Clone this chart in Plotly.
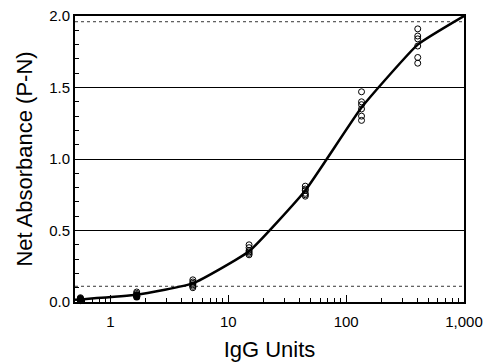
import plotly.graph_objects as go

# IgG dilution series (3-fold)
igg_units = [0.556, 1.67, 5, 15, 45, 135, 405]
replicates = [
    [0.03, 0.02, 0.02, 0.015, 0.01, 0.01],
    [0.07, 0.06, 0.05, 0.05, 0.04, 0.04],
    [0.155, 0.14, 0.13, 0.12, 0.11, 0.10],
    [0.40, 0.38, 0.36, 0.35, 0.34, 0.33],
    [0.81, 0.79, 0.78, 0.76, 0.75, 0.74],
    [1.47, 1.40, 1.38, 1.35, 1.30, 1.27],
    [1.91, 1.86, 1.84, 1.79, 1.71, 1.67],
]
# filled (overlapping) points at the low end
filled_x = [0.556, 0.556, 1.67, 1.67]
filled_y = [0.025, 0.015, 0.045, 0.035]

# fitted curve
curve_x = [0.5, 0.556, 1.67, 5, 15, 45, 135, 405, 1000]
curve_y = [0.015, 0.018, 0.05, 0.13, 0.355, 0.78, 1.36, 1.80, 2.0]

cutoff_low = 0.11
cutoff_high = 1.96

y_ticks = [0.0, 0.5, 1.0, 1.5, 2.0]
x_ticks = [1, 10, 100, 1000]
x_tick_text = ["1", "10", "100", "1,000"]
x_minor = [m * 10 ** d for d in range(-1, 3) for m in range(2, 10) if 0.5 <= m * 10 ** d <= 1000]

pts_x = [x for x, reps in zip(igg_units, replicates) for _ in reps]
pts_y = [v for reps in replicates for v in reps]

fig = go.Figure()
fig.add_trace(go.Scatter(
    x=pts_x, y=pts_y, mode="markers",
    marker=dict(symbol="circle-open", size=6, color="black", line=dict(width=1)),
    showlegend=False, cliponaxis=False))
fig.add_trace(go.Scatter(
    x=filled_x, y=filled_y, mode="markers",
    marker=dict(symbol="circle", size=7, color="black"),
    showlegend=False, cliponaxis=False))
fig.add_trace(go.Scatter(
    x=curve_x, y=curve_y, mode="lines",
    line=dict(color="black", width=2.5, shape="spline", smoothing=0.4),
    showlegend=False, cliponaxis=False))

for yv in (cutoff_low, cutoff_high):
    fig.add_shape(type="line", xref="paper", x0=0, x1=1, yref="y", y0=yv, y1=yv,
                  line=dict(color="black", width=0.8, dash="dot"), layer="below")

font = "Liberation Sans, Arial, sans-serif"
fig.update_layout(
    width=484, height=362,
    margin=dict(l=75, r=20, t=16, b=60, autoexpand=False),
    paper_bgcolor="white", plot_bgcolor="white",
    font=dict(family=font, color="black", size=15),
    xaxis=dict(
        type="log", range=[-0.30103, 3],
        tickvals=x_ticks, ticktext=x_tick_text,
        ticks="inside", ticklen=7, tickwidth=1, tickcolor="black",
        ticklabelstandoff=5,
        minor=dict(tickvals=x_minor, ticks="inside", ticklen=4, tickcolor="black", showgrid=False),
        showline=True, linecolor="black", linewidth=2, mirror=True,
        showgrid=False, zeroline=False, automargin=False,
        title=dict(text="IgG Units", font=dict(size=22), standoff=15),
        tickfont=dict(size=15),
    ),
    yaxis=dict(
        range=[0, 2.0],
        tickvals=y_ticks, tickformat=".1f",
        ticks="inside", ticklen=7, tickwidth=1, tickcolor="black",
        minor=dict(dtick=0.1, ticks="inside", ticklen=4, tickcolor="black", showgrid=False),
        showline=True, linecolor="black", linewidth=2, mirror=True,
        showgrid=True, gridcolor="black", gridwidth=1.2, zeroline=False, automargin=False,
        title=dict(text="Net Absorbance (P-N)", font=dict(size=22), standoff=10),
        tickfont=dict(size=15),
    ),
)

fig.write_html("out.html")
